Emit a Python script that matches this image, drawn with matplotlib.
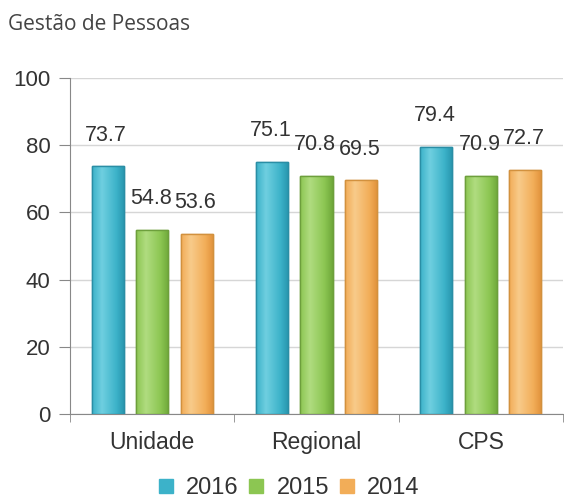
import matplotlib

matplotlib.use("Agg")
import matplotlib.pyplot as plt
from matplotlib.colors import LinearSegmentedColormap
from matplotlib.lines import Line2D
import numpy as np

plt.rcParams["font.family"] = ["Liberation Sans", "DejaVu Sans"]

title = "Gestão de Pessoas"
categories = ["Unidade", "Regional", "CPS"]
series = ["2016", "2015", "2014"]
values_2016 = [73.7, 75.1, 79.4]
values_2015 = [54.8, 70.8, 70.9]
values_2014 = [53.6, 69.5, 72.7]
y_ticks = [0, 20, 40, 60, 80, 100]

# fill, light, dark, edge per series
colors = [
    ("#3cb2c9", "#6fcfe0", "#2795ad", "#2a8ea5"),
    ("#8cc652", "#b0dc80", "#6fa83a", "#6d9f3c"),
    ("#f2ad58", "#f8cb8a", "#e0913a", "#d2913e"),
]

fig = plt.figure(figsize=(5.64, 5.00), dpi=100)
ax = fig.add_axes([70 / 564, 86 / 500, 493 / 564, 336 / 500])

x = np.arange(len(categories))
width = 0.195
step = 0.271
grad = np.linspace(0, 1, 64).reshape(1, -1)

for i, (name, vals) in enumerate(zip(series, [values_2016, values_2015, values_2014])):
    fill, light, dark, edge = colors[i]
    cmap = LinearSegmentedColormap.from_list(
        name, [(0.0, fill), (0.3, light), (0.75, fill), (1.0, dark)]
    )
    bars = ax.bar(x + (i - 1) * step, vals, width, color=fill, edgecolor=edge,
                  linewidth=1.0, zorder=3)
    for b, v in zip(bars, vals):
        x0 = b.get_x()
        im = ax.imshow(grad, cmap=cmap, aspect="auto", zorder=3.5,
                       extent=(x0, x0 + b.get_width(), 0, v))
        im.set_clip_path(b)
        b2 = plt.Rectangle((x0, 0), b.get_width(), v, fill=False,
                           edgecolor=edge, linewidth=1.0, zorder=4)
        ax.add_patch(b2)
        ax.annotate(f"{v}", (b.get_x() + b.get_width() / 2, v),
                    xytext=(-1, 15), textcoords="offset points",
                    ha="center", va="bottom", fontsize=15.5, color="#333333",
                    zorder=5)

ax.set_xlim(-0.5, 2.5)
ax.set_ylim(0, 100)
ax.set_yticks(y_ticks)
ax.yaxis.grid(True, color="#d6d6d6", linewidth=1.0, zorder=0)
ax.set_xticks(x)
ax.set_xticklabels(categories)
ax.set_xticks([-0.5, 0.5, 1.5, 2.5], minor=True)
ax.tick_params(axis="x", which="major", length=0, pad=12, labelsize=16.5,
               labelcolor="#333333")
ax.tick_params(axis="x", which="minor", length=6, color="#888888", direction="out")
ax.tick_params(axis="y", length=8, color="#888888", pad=6, labelsize=16,
               labelcolor="#333333")
for side in ["top", "right"]:
    ax.spines[side].set_visible(False)
for side in ["left", "bottom"]:
    ax.spines[side].set_color("#888888")
ax.set_axisbelow(True)

fig.text(8 / 564, 1 - 25 / 500, title, fontsize=15, color="#444444",
         va="center", ha="left", family=["Open Sans", "DejaVu Sans"])

handles = [Line2D([], [], marker="s", linestyle="none", markersize=9.5,
                  markerfacecolor=c[0], markeredgecolor=c[0]) for c in colors]
fig.legend(handles, series, loc="center", bbox_to_anchor=(289 / 564, 1 - 488 / 500),
           ncol=3, frameon=False, fontsize=17, labelcolor="#333333",
           handletextpad=0.55, columnspacing=0.45, handlelength=0.6,
           borderaxespad=0, borderpad=0)

fig.savefig("out.png")
plt.close(fig)
